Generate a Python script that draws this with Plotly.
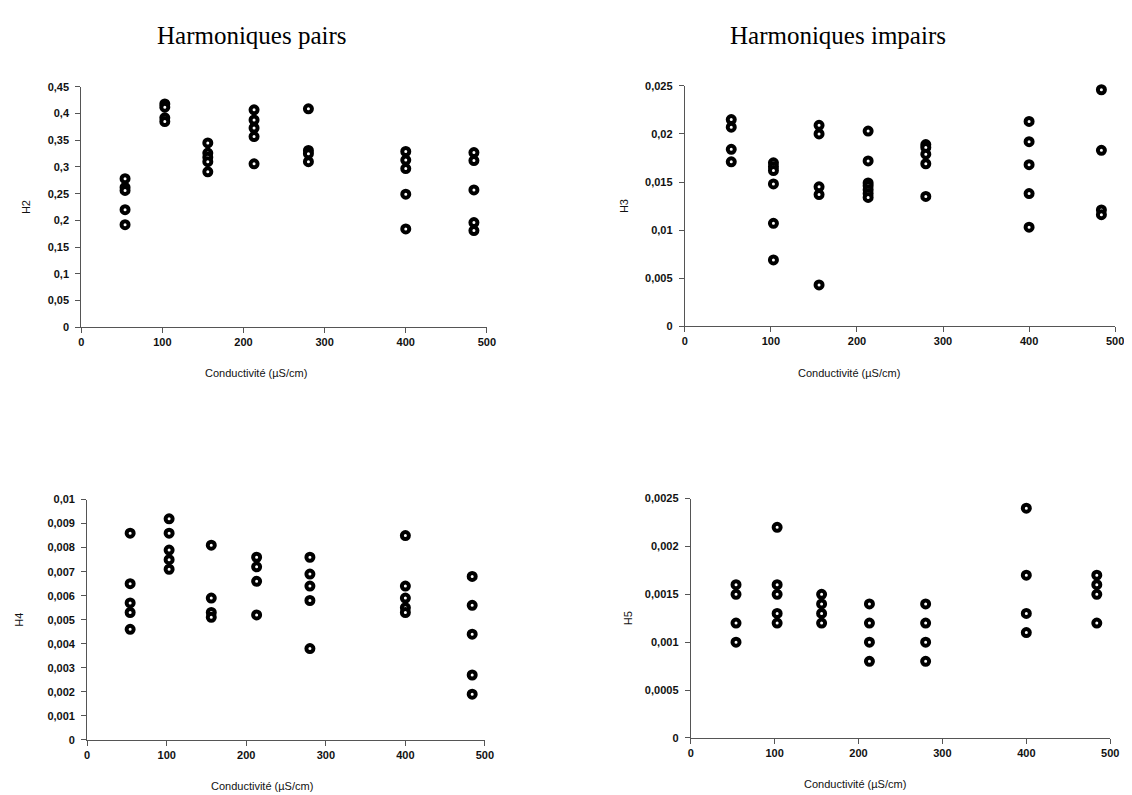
import plotly.graph_objects as go

# Conductivity levels (µS/cm)
conductivite = [54, 103, 156, 213, 280, 400, 484]

# Measured values per conductivity level
h2 = [
    [0.278, 0.262, 0.256, 0.220, 0.192],
    [0.418, 0.412, 0.392, 0.385],
    [0.345, 0.326, 0.318, 0.310, 0.291],
    [0.407, 0.388, 0.373, 0.357, 0.306],
    [0.409, 0.331, 0.325, 0.310],
    [0.329, 0.313, 0.297, 0.249, 0.184],
    [0.327, 0.312, 0.257, 0.196, 0.181],
]
h3 = [
    [0.0215, 0.0207, 0.0184, 0.0171],
    [0.0170, 0.0166, 0.0162, 0.0148, 0.0107, 0.0069],
    [0.0209, 0.0200, 0.0145, 0.0137, 0.0043],
    [0.0203, 0.0172, 0.0149, 0.0146, 0.0142, 0.0138, 0.0134],
    [0.0189, 0.0186, 0.0179, 0.0169, 0.0135],
    [0.0213, 0.0192, 0.0168, 0.0138, 0.0103],
    [0.0246, 0.0183, 0.0121, 0.0116],
]
h4 = [
    [0.0086, 0.0065, 0.0057, 0.0053, 0.0046],
    [0.0092, 0.0086, 0.0079, 0.0075, 0.0071],
    [0.0081, 0.0059, 0.0053, 0.0051],
    [0.0076, 0.0072, 0.0066, 0.0052],
    [0.0076, 0.0069, 0.0064, 0.0058, 0.0038],
    [0.0085, 0.0064, 0.0059, 0.0055, 0.0053],
    [0.0068, 0.0056, 0.0044, 0.0027, 0.0019],
]
h5 = [
    [0.0016, 0.0015, 0.0012, 0.0010],
    [0.0022, 0.0016, 0.0015, 0.0013, 0.0012],
    [0.0015, 0.0014, 0.0013, 0.0012],
    [0.0014, 0.0012, 0.0010, 0.0008],
    [0.0014, 0.0012, 0.0010, 0.0008],
    [0.0024, 0.0017, 0.0013, 0.0011],
    [0.0017, 0.0016, 0.0015, 0.0012],
]

x_title = "Conductivité (µS/cm)"
titles = ["Harmoniques pairs", "Harmoniques impairs"]

W, H = 1132, 795


def px_dom(a, b, total, flip=False):
    if flip:
        return [1 - b / total, 1 - a / total]
    return [a / total, b / total]


panels = [
    # name, data, ymax, dtick, x pixel span, y pixel span, x-title center x, y-title standoff
    ("H2", h2, 0.45, 0.05, (71, 481), (74, 318), 248, 14),
    ("H3", h3, 0.025, 0.005, (681, 1116), (73, 317), 847, 14),
    ("H4", h4, 0.01, 0.001, (77, 479), (493, 737), 254, 21),
    ("H5", h5, 0.0025, 0.0005, (687, 1111), (492, 735), 853, 10),
]

fig = go.Figure()
axis_color = "#555555"
tick_font = dict(family="Liberation Sans, Arial", size=11, color="#111111", weight="bold")
title_font = dict(family="Liberation Sans, Arial", size=11, color="#111111")

for i, (name, data, ymax, dtick, xs_px, ys_px, xt, ystand) in enumerate(panels):
    xs, ys = [], []
    for c, vals in zip(conductivite, data):
        for v in vals:
            xs.append(c)
            ys.append(v)
    suffix = "" if i == 0 else str(i + 1)
    fig.add_trace(go.Scatter(
        x=xs, y=ys, mode="markers",
        marker=dict(symbol="circle", size=7, color="white",
                    line=dict(color="black", width=4)),
        xaxis="x" + suffix, yaxis="y" + suffix, showlegend=False,
        cliponaxis=False,
    ))
    xa = dict(domain=px_dom(*xs_px, W), range=[0, 500], dtick=100, tick0=0,
              showline=True, linecolor=axis_color, linewidth=1,
              ticks="outside", ticklen=5, tickcolor=axis_color,
              showgrid=False, zeroline=False, tickfont=tick_font,
              anchor="y" + suffix)
    ya = dict(domain=px_dom(*ys_px, H, flip=True), range=[0, ymax], dtick=dtick, tick0=0,
              showline=True, linecolor=axis_color, linewidth=1,
              ticks="outside", ticklen=5, tickcolor=axis_color,
              showgrid=False, zeroline=False, tickfont=tick_font,
              ticklabelstandoff=4,
              title=dict(text=name, font=title_font, standoff=ystand),
              anchor="x" + suffix)
    fig.layout["xaxis" + suffix] = xa
    fig.layout["yaxis" + suffix] = ya
    # x-axis title, placed below the axis (slightly off-centre as in the scan)
    fig.add_annotation(text=x_title, x=xt / W, y=1 - (ys_px[1] + 47) / H,
                       xref="paper", yref="paper", showarrow=False,
                       xanchor="center", yanchor="middle", font=title_font)

title_pos = [(244, 22), (836, 22)]
for t, (tx, ty) in zip(titles, title_pos):
    fig.add_annotation(text=t, x=tx / W, y=1 - ty / H,
                       xref="paper", yref="paper", showarrow=False,
                       xanchor="center", yanchor="middle",
                       font=dict(family="Liberation Serif, Times New Roman", size=25, color="black"))

fig.update_layout(
    width=W, height=H,
    margin=dict(l=0, r=0, t=0, b=0),
    paper_bgcolor="white", plot_bgcolor="white",
    separators=",.",
    showlegend=False,
)

fig.write_html("out.html")
